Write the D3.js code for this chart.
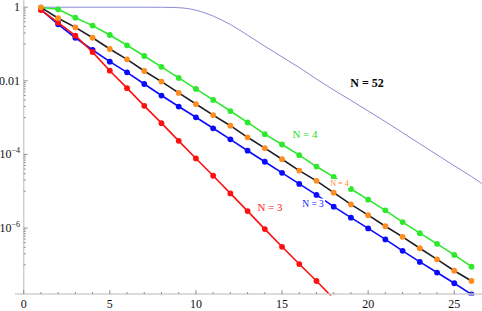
<!DOCTYPE html>
<meta charset="utf-8">
<style>
body { margin: 0; background: #fff; }
svg { display: block; }
text { font-family: "Liberation Serif", "Times New Roman", Times, serif; }
</style>
<svg width="482" height="311"></svg>
<script src="https://d3js.org/d3.v7.min.js"></script>
<script>

// values, x = 1, 2, 3, ...
var greenY = [0.98, 0.877, 0.519, 0.316, 0.176, 0.0923, 0.0472, 0.024, 0.012, 0.00603,
  0.00302, 0.00151, 7.41e-4, 3.55e-4, 1.86e-4, 9.55e-5, 4.68e-5, 2.45e-5, 1.15e-5, 5.89e-6,
  3.02e-6, 1.45e-6, 7.24e-7, 3.72e-7, 1.86e-7, 8.91e-8]
var orangeY = [0.993, 0.501, 0.284, 0.148, 0.0731, 0.0384, 0.0185, 0.00955, 0.00468, 0.00234,
  0.00117, 6.03e-4, 2.92e-4, 1.48e-4, 7.41e-5, 3.63e-5, 1.91e-5, 9.12e-6, 4.37e-6, 2.24e-6,
  1.12e-6, 5.75e-7, 2.82e-7, 1.41e-7, 6.92e-8, 3.63e-8]
var blueY = [0.865, 0.343, 0.148, 0.0687, 0.0331, 0.017, 0.00818, 0.00398, 0.002, 0.00102,
  5.13e-4, 2.57e-4, 1.26e-4, 6.31e-5, 3.16e-5, 1.58e-5, 7.94e-6, 3.8e-6, 1.91e-6, 9.77e-7,
  4.9e-7, 2.4e-7, 1.2e-7, 6.17e-8, 3.16e-8, 1.58e-8]
var redY = [0.839, 0.38, 0.168, 0.0603, 0.0188, 0.00631, 0.00209, 7.08e-4, 2.34e-4, 7.76e-5,
  2.63e-5, 8.71e-6, 2.88e-6, 9.33e-7, 3.09e-7, 1.05e-7, 3.63e-8, 1.2e-8]

// the thin N = 52 curve
var curveX = [1, 2, 3, 4, 5, 6, 7, 8, 9, 10, 11, 12, 13, 14, 15, 16, 17, 18, 19, 20,
  21, 22, 23, 24, 25, 26, 26.6]
var curveY = [1, 1, 1, 1, 1, 1, 1, 0.995, 0.97, 0.83, 0.575, 0.339, 0.174, 0.0871, 0.0447,
  0.0229, 0.0112, 0.00562, 0.00295, 0.00151, 7.76e-4, 3.89e-4, 1.95e-4, 9.77e-5, 4.9e-5,
  2.51e-5, 1.62e-5]

var xTicks = [0, 5, 10, 15, 20, 25]
var yTicks = [1, 1e-2, 1e-4, 1e-6]
var yTickLabels = [["1"], ["0.01"], ["10", "\u22124"], ["10", "\u22126"]]

var labels = [
  {text: "N = 52", x: 367, y: 87, color: "#000", size: 12, bold: true, bg: false},
  {text: "N = 4", x: 305, y: 138, color: "#22e022", size: 11, bold: false, bg: false},
  {text: "N = 4", x: 339.5, y: 186, color: "#ff8a1c", size: 8, bold: false, bg: true},
  {text: "N = 3", x: 313, y: 206.5, color: "#1a1aff", size: 9.5, bold: false, bg: true},
  {text: "N = 3", x: 270, y: 211, color: "#ff2020", size: 11, bold: false, bg: false}
]

function makeDataset(y_arr) {
  var out = []
  for (var i = 0; i < y_arr.length; i++) out.push([i + 1, y_arr[i]])
  return out
}

var svg = d3.select("svg"),
    left = 23.7,
    bottom = 294

var xScale = d3.scaleLinear().domain([0, 26.61]).range([left, 482])
var yScale = d3.scaleLog().domain([Math.pow(10, -7.793), Math.pow(10, 0.196)]).range([bottom, 0])

svg.append("defs").append("clipPath").attr("id", "plot")
  .append("rect").attr("x", left).attr("y", 0).attr("width", 482 - left).attr("height", bottom + 1.5)

var plot = svg.append("g").attr("clip-path", "url(#plot)")

var line = d3.line()
  .x(function(d) { return xScale(d[0]) })
  .y(function(d) { return yScale(d[1]) })

plot.append("path")
  .datum(curveX.map(function(x, i) { return [x, curveY[i]] }))
  .attr("fill", "none")
  .attr("stroke", "#8a8ad2")
  .attr("stroke-width", 1)
  .attr("d", line.curve(d3.curveMonotoneX))

line.curve(d3.curveLinear)

var series = [
  {data: makeDataset(greenY), line: "#2ee82e", dot: "#2ee82e"},
  {data: makeDataset(blueY), line: "#0a0aff", dot: "#0a0aff"},
  {data: makeDataset(redY), line: "#ff1010", dot: "#ff1010"},
  {data: makeDataset(orangeY), line: "#1e1e26", dot: "#ff8c1e"}
]

series.forEach(function(s) {
  plot.append("path")
    .datum(s.data)
    .attr("fill", "none")
    .attr("stroke", s.line)
    .attr("stroke-width", 1.6)
    .attr("d", line)
  plot.append("g")
    .selectAll("circle")
    .data(s.data)
    .enter()
    .append("circle")
    .attr("cx", function(d) { return xScale(d[0]) })
    .attr("cy", function(d) { return yScale(d[1]) })
    .attr("r", 2.9)
    .style("fill", s.dot)
})

// labels
labels.forEach(function(l) {
  var t = svg.append("text")
    .attr("x", l.x)
    .attr("y", l.y)
    .attr("text-anchor", "middle")
    .style("font-size", l.size + "px")
    .style("font-weight", l.bold ? "bold" : "normal")
    .style("fill", l.color)
    .text(l.text)
  if (l.bg) {
    var b = t.node().getBBox()
    svg.insert("rect", function() { return t.node() })
      .attr("x", b.x - 1).attr("y", b.y)
      .attr("width", b.width + 2).attr("height", b.height)
      .style("fill", "#fff")
  }
})

// axes
svg.append("line")
  .attr("x1", left).attr("x2", left).attr("y1", 0).attr("y2", bottom)
  .style("stroke", "#cfcfcf").style("stroke-width", 1.5)
svg.append("line")
  .attr("x1", 15).attr("x2", 482).attr("y1", bottom).attr("y2", bottom)
  .style("stroke", "#cfcfcf").style("stroke-width", 1.5)

// x ticks
var xMinor = d3.range(1, 27).filter(function(v) { return v % 5 != 0 })
svg.append("g").selectAll("line").data(xMinor).enter().append("line")
  .attr("x1", function(d) { return xScale(d) }).attr("x2", function(d) { return xScale(d) })
  .attr("y1", bottom).attr("y2", bottom - 2)
  .style("stroke", "#777").style("stroke-width", 0.8)
svg.append("g").selectAll("line").data(xTicks).enter().append("line")
  .attr("x1", function(d) { return xScale(d) }).attr("x2", function(d) { return xScale(d) })
  .attr("y1", bottom).attr("y2", bottom - 4)
  .style("stroke", "#777").style("stroke-width", 0.8)
svg.append("g").selectAll("text").data(xTicks).enter().append("text")
  .attr("x", function(d) { return xScale(d) })
  .attr("y", 307.5)
  .attr("text-anchor", "middle")
  .style("font-size", "12px")
  .style("fill", "#111")
  .text(function(d) { return d })

// y ticks
var yMinor = []
yTicks.forEach(function(t) {
  for (var j = 1; j < 10; j++) yMinor.push(t * j / 10)
})
svg.append("g").selectAll("line").data(yMinor).enter().append("line")
  .attr("x1", left).attr("x2", left + 2)
  .attr("y1", function(d) { return yScale(d) }).attr("y2", function(d) { return yScale(d) })
  .style("stroke", "#777").style("stroke-width", 0.8)
svg.append("g").selectAll("line").data(yTicks).enter().append("line")
  .attr("x1", left).attr("x2", left + 4)
  .attr("y1", function(d) { return yScale(d) }).attr("y2", function(d) { return yScale(d) })
  .style("stroke", "#777").style("stroke-width", 0.8)

var yl = svg.append("g").selectAll("text").data(yTicks).enter().append("text")
  .attr("x", 20)
  .attr("y", function(d) { return yScale(d) + 4 })
  .attr("text-anchor", "end")
  .style("font-size", "12px")
  .style("fill", "#111")
yl.each(function(d, i) {
  var parts = yTickLabels[i]
  var el = d3.select(this)
  el.append("tspan").text(parts[0])
  if (parts.length > 1) {
    el.append("tspan").attr("dy", -5).style("font-size", "8px").text(parts[1])
  }
})

</script>
